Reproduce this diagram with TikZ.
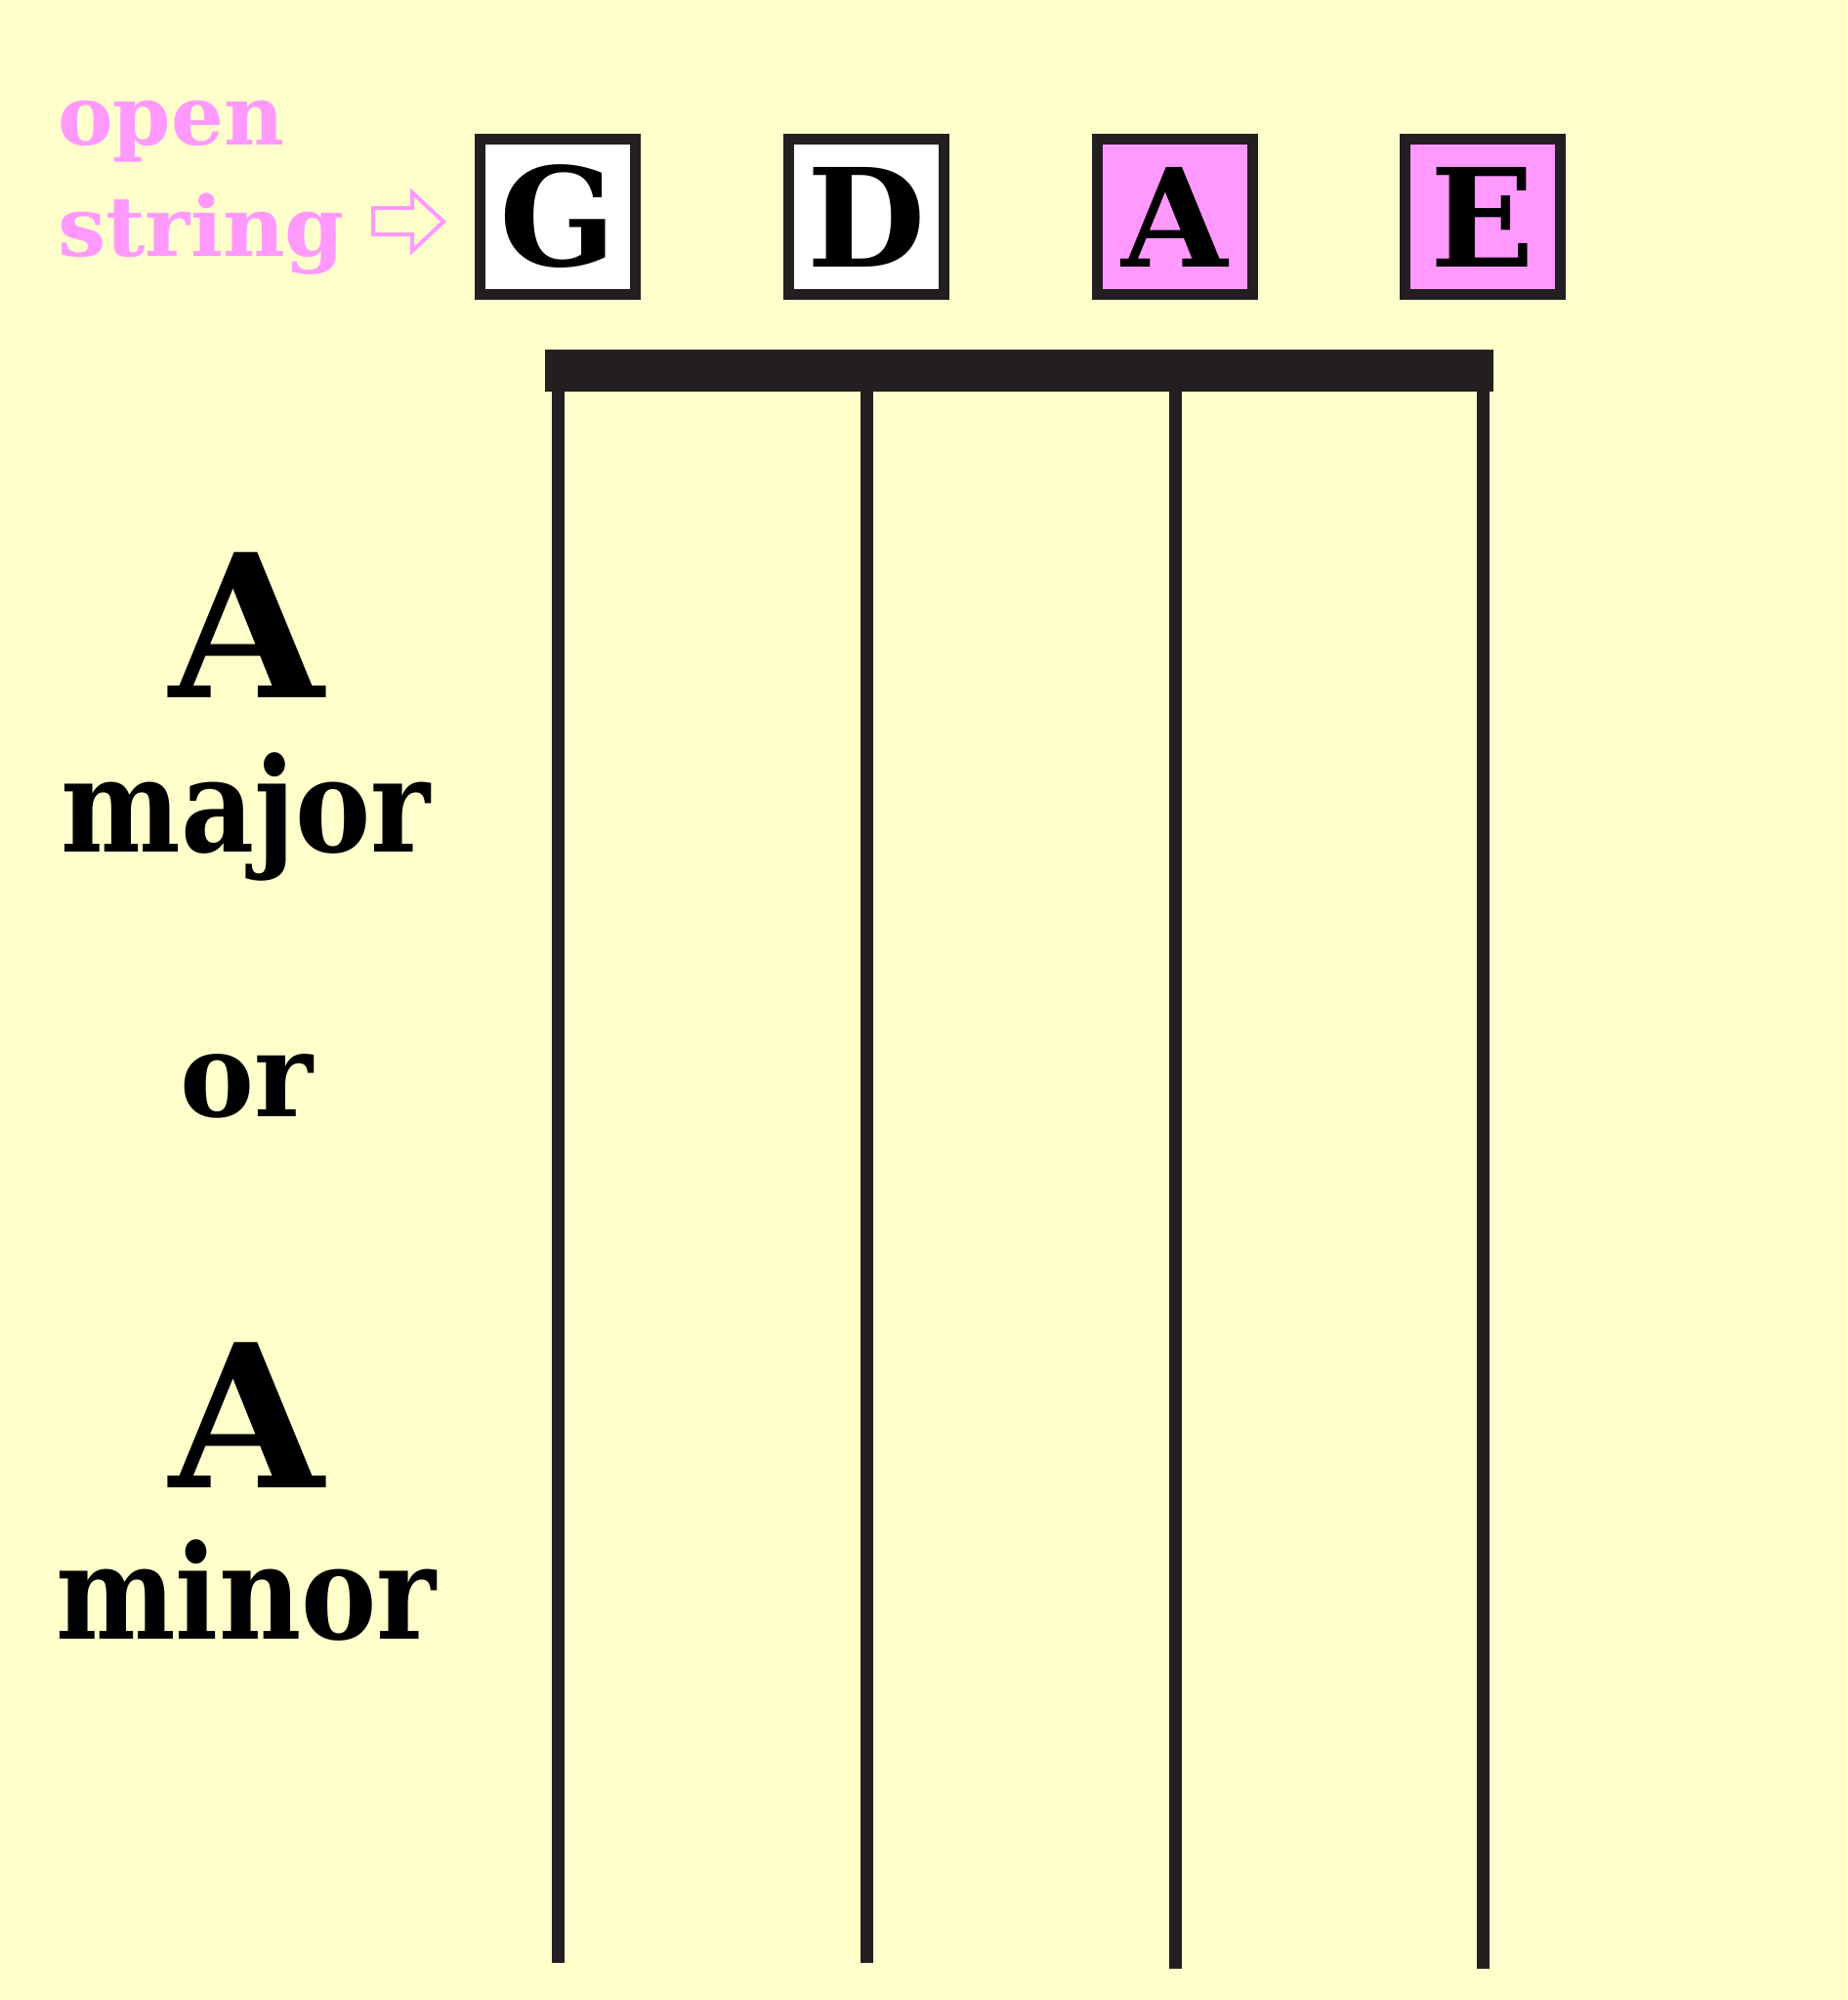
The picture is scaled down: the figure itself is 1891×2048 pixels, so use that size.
\documentclass[tikz,border=0pt]{standalone}
\usepackage{fontspec}
\setmainfont{DejaVu Serif}
\usepackage{graphicx}
\definecolor{bg}{RGB}{255,255,204}
\definecolor{pinkc}{RGB}{255,153,255}
\definecolor{ink}{RGB}{35,31,32}
\newcommand{\fsz}[1]{\fontsize{#1}{#1}\selectfont\bfseries}
\begin{document}
\begin{tikzpicture}[x=1pt,y=-1pt,
  strbox/.style={draw=ink, line width=11pt, minimum width=159pt, minimum height=159pt, inner sep=0pt, font=\fsz{140}},
  openlbl/.style={text=pinkc, anchor=base west, inner sep=0pt, font=\fsz{85}},
  chordlbl/.style={anchor=base, inner sep=0pt, text=black},
  vstring/.style={draw=ink, line width=13pt}
]
\useasboundingbox (0,0) rectangle (1891,2048);
\fill[bg] (0,0) rectangle (1891,2048);

% open string label
\node[openlbl] (open) at (59,148) {open};
\node[openlbl] (string) at (59,262) {\scalebox{1.03}[1]{string}};
\draw[pinkc, line width=4pt, line join=miter] (382,213) -- (422,213) -- (422,197) -- (454,227) -- (422,257) -- (422,240) -- (382,240) -- cycle;

% string name boxes
\node[strbox, fill=white] (boxG) at (571,222) {G};
\node[strbox, fill=white] (boxD) at (887,222) {D};
\node[strbox, fill=pinkc] (boxA) at (1203,222) {A};
\node[strbox, fill=pinkc] (boxE) at (1518,222) {E};

% nut
\node[fill=ink, minimum width=971pt, minimum height=43pt, inner sep=0pt] (nut) at (1043.5,379.5) {};

% strings
\coordinate (endG) at (571,2010);
\coordinate (endD) at (887,2010);
\coordinate (endA) at (1203,2016);
\coordinate (endE) at (1518,2016);
\draw[vstring] (boxG |- nut.south) -- (endG);
\draw[vstring] (boxD |- nut.south) -- (endD);
\draw[vstring] (boxA |- nut.south) -- (endA);
\draw[vstring] (boxE |- nut.south) -- (endE);

% chord labels
\node[chordlbl, font=\fsz{204}] (A1) at (253,714) {A};
\node[chordlbl, font=\fsz{134}] (major) at (252,872) {\scalebox{0.865}[1]{major}};
\node[chordlbl, font=\fsz{120}] (or) at (253,1143) {\scalebox{0.95}[1]{or}};
\node[chordlbl, font=\fsz{204}] (A2) at (253,1523) {A};
\node[chordlbl, font=\fsz{134}] (minor) at (252,1678) {\scalebox{0.865}[1]{minor}};
\end{tikzpicture}
\end{document}
